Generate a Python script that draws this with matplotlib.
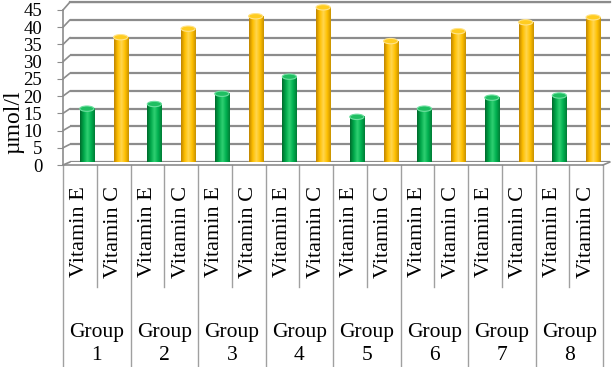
import numpy as np
import matplotlib
matplotlib.use('Agg')
import matplotlib.pyplot as plt
from matplotlib.colors import LinearSegmentedColormap
from matplotlib.patches import Ellipse, ConnectionPatch

# values (umol/l)
groups = ['Group\n1', 'Group\n2', 'Group\n3', 'Group\n4', 'Group\n5', 'Group\n6', 'Group\n7', 'Group\n8']
vitamins = ['Vitamin E', 'Vitamin C']
vit_e = [15.0, 16.3, 19.2, 24.0, 12.7, 15.0, 18.1, 18.7]
vit_c = [35.1, 37.5, 41.0, 43.5, 34.0, 36.8, 39.3, 40.7]
yticks = [0, 5, 10, 15, 20, 25, 30, 35, 40, 45]

plt.rcParams['font.family'] = ['Liberation Serif', 'DejaVu Serif']

W, H = 615, 367
GRID = '#8c8c8c'
fig = plt.figure(figsize=(6.15, 3.67), dpi=100)

def px_box(x0, y_top, x1, y_bot):
    return [x0 / W, 1 - y_bot / H, (x1 - x0) / W, (y_bot - y_top) / H]

back = fig.add_axes(px_box(70, 2, 610, 162))   # back wall of the 3d box
front = fig.add_axes(px_box(63, 10, 603, 165))  # front plane, carries the axis
front.patch.set_alpha(0)

nslot = len(groups) * len(vitamins)
for a in (back, front):
    a.set_xlim(-0.5, nslot - 0.5)
    a.set_ylim(0, 45)

# back wall + gridlines
for s in ['left', 'right', 'bottom']:
    back.spines[s].set_visible(False)
back.spines['top'].set_color(GRID)
back.spines['top'].set_linewidth(1.6)
back.set_xticks([])
back.set_yticks([])
for v in yticks:
    back.axhline(v, color=GRID, lw=1.6, zorder=1)

green = LinearSegmentedColormap.from_list('g', ['#006a2c', '#00a84a', '#2fd072', '#00b050', '#007d36'])
yellow = LinearSegmentedColormap.from_list('y', ['#bf8500', '#ffbf00', '#ffd650', '#ffc000', '#c99200'])
grad = np.linspace(0, 1, 64).reshape(1, -1)
bw = 0.42
eh = 1.5  # ellipse height in data units

def cylinder(x, h, cmap, top_face, top_edge):
    back.imshow(grad, cmap=cmap, extent=(x - bw / 2, x + bw / 2, 0, h), aspect='auto', zorder=3)
    back.add_patch(Ellipse((x, 0), bw, eh, facecolor=cmap(0.5), edgecolor='none', zorder=2.9))
    back.add_patch(Ellipse((x, h), bw, eh, facecolor=top_face, edgecolor=top_edge, lw=0.8, zorder=3.1))

for g in range(len(groups)):
    cylinder(2 * g, vit_e[g], green, '#1fbf62', '#6ee0a0')
    cylinder(2 * g + 1, vit_c[g], yellow, '#ffcc20', '#ffe38a')
back.set_xlim(-0.5, nslot - 0.5)
back.set_ylim(0, 45)

# front axis
front.spines['top'].set_visible(False)
front.spines['right'].set_visible(False)
for s in ['left', 'bottom']:
    front.spines[s].set_color(GRID)
    front.spines[s].set_linewidth(1.2)
front.set_xticks([])
front.set_yticks(yticks)
front.tick_params(axis='y', length=4, color=GRID, labelsize=13.5, pad=11)

# left wall slants and floor edge
for v in yticks:
    fig.add_artist(ConnectionPatch(xyA=(-0.5, v), coordsA=front.transData,
                                   xyB=(-0.5, v), coordsB=back.transData, color=GRID, lw=1.2))
fig.add_artist(ConnectionPatch(xyA=(nslot - 0.5, 0), coordsA=front.transData,
                               xyB=(nslot - 0.5, 0), coordsB=back.transData, color=GRID, lw=1.2))

# category table under the chart
trans = front.get_xaxis_transform()
for i in range(nslot + 1):
    b = i - 0.5
    ybot = -1.31 if i % 2 == 0 else -0.787
    front.plot([b, b], [0, ybot], transform=trans, clip_on=False, color='#a0a0a0', lw=1.0)
for g in range(len(groups)):
    for k, name in enumerate(vitamins):
        front.text(2 * g + k, -0.43, name, rotation=90, ha='center', va='center',
                   transform=trans, fontsize=16)
    front.text(2 * g + 0.5, -1.155, groups[g], ha='center', va='center',
               transform=trans, fontsize=15.5, linespacing=1.3)

fig.text(14 / W, 1 - 122 / H, 'µmol/l', rotation=90, ha='center', va='center', fontsize=17)

fig.savefig('out.png', dpi=100)
